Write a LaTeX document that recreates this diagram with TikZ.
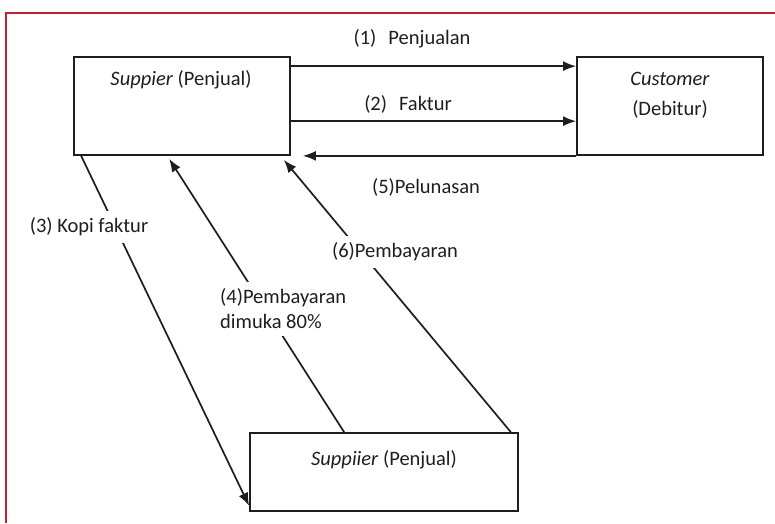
\documentclass[tikz,border=0pt]{standalone}
\usepackage{fontspec}
\setmainfont{Carlito}
\usetikzlibrary{arrows.meta, calc}
\definecolor{framered}{RGB}{190,35,45}
\definecolor{ink}{RGB}{30,30,30}

\begin{document}
\begin{tikzpicture}[x=1pt,y=-1pt,
	box/.style={draw=ink, line width=1.7pt, inner sep=0pt, minimum height=98pt},
	txt/.style={font=\fontsize{20.5}{25}\selectfont, text=ink, inner sep=0pt},
	tag/.style={txt, fill=white, inner sep=7pt},
	flow/.style={draw=ink, line width=1.7pt, -{Latex[length=13pt,width=10pt]}}]

	\useasboundingbox (0,0) rectangle (775,523);
	\draw [framered, line width=2pt] (6,523) -- (6,13) -- (775,13);

	\node [box, minimum width=216pt] (sup) at (182,106) {};
	\node [box, minimum width=186pt] (cust) at (670,106) {};
	\node [box, minimum width=268pt, minimum height=78pt] (supB) at (384,472) {};

	\node [txt] (supTxt) at (181,80) {\textit{Suppier} (Penjual)};
	\node [txt, align=center, font=\fontsize{20.5}{30}\selectfont] (custTxt) at (670,95) {\textit{Customer}\\(Debitur)};
	\node [txt] (supBTxt) at (384,460) {\textit{Suppiier} (Penjual)};

	\draw [flow] ([yshift=-10pt]sup.north east) -- ([yshift=-10pt]cust.north west);
	\draw [flow] ([yshift=-65pt]sup.north east) -- ([yshift=-65pt]cust.north west);
	\draw [flow] (cust.south west) -- ([xshift=12pt]sup.south east);
	\draw [flow] ([xshift=8pt]sup.south west) -- ([yshift=6pt]supB.south west);
	\draw [flow] ([xshift=95pt]supB.north west) -- ([xshift=96pt,yshift=-3pt]sup.south west);
	\draw [flow] ([xshift=-8pt]supB.north east) -- ([xshift=-7pt,yshift=-4pt]sup.south east);

	\node [txt] (lblJual) at (412,39) {(1)\hspace{12pt}Penjualan};
	\node [txt] (lblFaktur) at (408,104) {(2)\hspace{12pt}Faktur};
	\node [txt] (lblLunas) at (426,187) {(5)Pelunasan};
	\node [tag] (lblKopi) at (89,227) {(3) Kopi faktur};
	\node [tag, align=left, anchor=west] (lblMuka) at (213,309) {(4)Pembayaran\\dimuka 80\%};
	\node [tag] (lblBayar) at (395,252) {(6)Pembayaran};

\end{tikzpicture}
\end{document}
